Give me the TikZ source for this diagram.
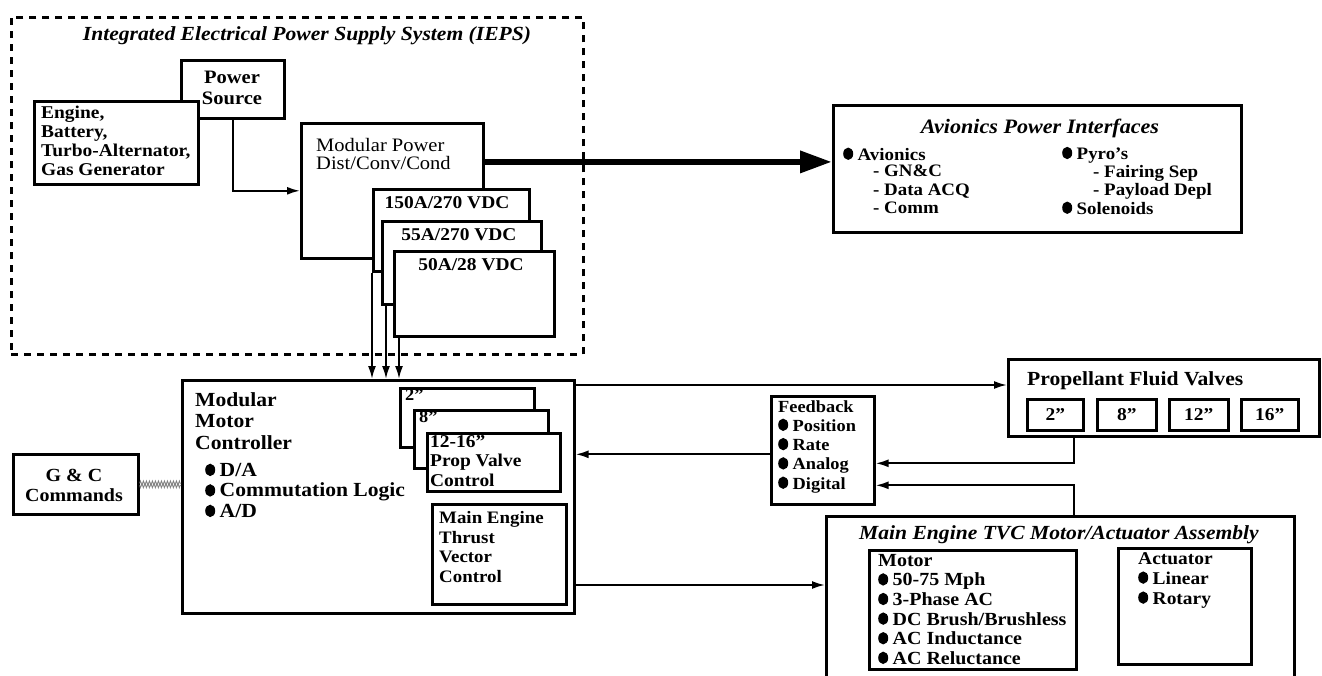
\documentclass[tikz,border=0pt]{standalone}
\usepackage{fontspec}
\setmainfont{Liberation Serif}[FakeStretch=1.08]
\usetikzlibrary{arrows.meta,decorations.pathmorphing,calc}
\newcommand\bul{\tikz[baseline=0pt,x=1pt,y=1pt]\fill (5,6.5) ellipse [x radius=5, y radius=6.2];\hspace{4.5pt}}
\newcommand\fs[2]{\fontsize{#1}{#2}\selectfont}
\tikzset{
  box/.style={draw, line width=2.6pt, fill=white, inner sep=0pt, anchor=north west},
  dashbox/.style={draw, line width=2.6pt, dash pattern=on 7pt off 6pt, inner sep=0pt, anchor=north west},
  arr/.style={line width=2pt, -{Latex[length=13pt,width=8pt]}},
  bigarr/.style={line width=6.5pt, -{Triangle[length=32pt,width=21pt]}},
  txt/.style={inner sep=0pt, align=left, anchor=north west, font=\bfseries\fs{17}{19}},
  ctxt/.style={inner sep=0pt, align=center, font=\bfseries\fs{17}{19}},
  ttl/.style={inner sep=0pt, font=\bfseries\itshape\fs{20}{22}},
  zz/.style={draw=black!50, line width=0.7pt, decorate, decoration={zigzag, segment length=3pt, amplitude=2.5pt}},
}
\newcommand\bx[6][]{\node[box,#1,minimum width={#5-#3},minimum height={#6-#4}] (#2) at (#3,#4) {};}
\begin{document}
\begin{tikzpicture}[x=1pt,y=-1pt]
\useasboundingbox (0,0) rectangle (1322,675);
% IEPS dashed region
\node[dashbox,minimum width=572,minimum height=337] (iepsbox) at (10,16) {};
\node[ttl] (iepst) at (307,36) {Integrated Electrical Power Supply System (IEPS)};
% power source and engine
\bx{ps}{180}{59}{283}{117}
\node[ctxt,font=\bfseries\fs{19}{21}] (pst) at (232,88) {Power\\Source};
\bx{eng}{33}{100}{197}{183}
\node[txt,font=\bfseries\fs{18}{19}] (engt) at (41,106) {Engine,\\Battery,\\Turbo-Alternator,\\Gas Generator};
% modular power
\bx{mpd}{300}{122}{482}{257}
\node[txt,font=\fs{19}{18.5}] (mpdt) at (316,138) {Modular Power\\Dist/Conv/Cond};
\bx{b150}{372}{188}{528}{270}
\node[ctxt,font=\bfseries\fs{18}{18}] (b150t) at (447,203) {150A/270 VDC};
\bx{b55}{381}{220}{540}{303}
\node[ctxt,font=\bfseries\fs{18}{18}] (b55t) at (459,235) {55A/270 VDC};
\bx{b50}{393}{250}{553}{335}
\node[ctxt,font=\bfseries\fs{18}{18}] (b50t) at (471,265) {50A/28 VDC};
\draw[arr] (ps.south) |- (mpd.west);
% avionics
\bx{av}{832}{104}{1240}{231}
\node[ttl,font=\bfseries\itshape\fs{20.5}{22}] (avt) at (1040,128) {Avionics Power Interfaces};
\node[txt,anchor=west,font=\bfseries\fs{17.5}{19}] (av1) at (843,154) {\bul Avionics};
\node[txt,font=\bfseries\fs{17.5}{18.5}] (av2) at (873,165) {- GN\&C\\- Data ACQ\\- Comm};
\node[txt,anchor=west,font=\bfseries\fs{17.5}{19}] (av3) at (1062,155) {\bul Pyro's};
\node[txt,font=\bfseries\fs{17.5}{18.5}] (av4) at (1093,165) {- Fairing Sep\\- Payload Depl};
\node[txt,anchor=west,font=\bfseries\fs{17.5}{19}] (av5) at (1062,208) {\bul Solenoids};
\coordinate (ta) at ($(mpd.north east)!0.29!(mpd.south east)$);
\draw[bigarr] (ta) -- (ta -| av.west);
% modular motor controller
\bx{mmc}{181}{379}{573}{612}
\node[txt,font=\bfseries\fs{20}{21.5}] (mmct) at (195,392) {Modular\\Motor\\Controller};
\node[txt,font=\bfseries\fs{20}{20.5}] (mmcb) at (205,463) {\bul D/A\\\bul Commutation Logic\\\bul A/D};
\bx{v2}{399}{387}{533}{446}
\node[txt,font=\bfseries\fs{17}{18}] (v2t) at (405,389) {2”};
\bx{v8}{413}{409}{547}{467}
\node[txt,font=\bfseries\fs{17}{18}] (v8t) at (419,411) {8”};
\bx{v12}{426}{432}{559}{490}
\node[txt,font=\bfseries\fs{18}{19.5}] (v12t) at (430,435) {12-16”\\Prop Valve\\Control};
\bx{met}{431}{503}{565}{603}
\node[txt,font=\bfseries\fs{17.5}{19.7}] (mett) at (439,511) {Main Engine\\Thrust\\Vector\\Control};
% arrows into MMC from power boxes
\draw[arr] (b150.south west) -- (b150.south west |- mmc.north);
\draw[arr] ([xshift=5pt]b55.south west) -- ([xshift=5pt]b55.south west |- mmc.north);
\draw[arr] ([xshift=6pt]b50.south west) -- ([xshift=6pt]b50.south west |- mmc.north);
% G&C
\bx{gc}{12}{453}{137}{513}
\node[ctxt,font=\bfseries\fs{18.5}{20}] (gct) at (74,485) {G \& C\\Commands};
\draw[zz] ([yshift=1pt]gc.east) -- ([yshift=1pt]gc.east -| mmc.west);
\draw[zz,decoration={zigzag, segment length=3pt, amplitude=-2.5pt}] ([yshift=-1pt]gc.east) -- ([yshift=-1pt]gc.east -| mmc.west);
% propellant fluid valves
\bx{pv}{1007}{358}{1318}{435}
\node[txt,anchor=west,font=\bfseries\fs{20}{20}] (pvt) at (1027,381) {Propellant Fluid Valves};
\bx{pa}{1026}{398}{1082}{429}
\node[ctxt,font=\bfseries\fs{18}{19}] (pat) at (pa.center) {2”};
\bx{pb}{1096}{398}{1155}{429}
\node[ctxt,font=\bfseries\fs{18}{19}] (pbt) at (pb.center) {8”};
\bx{pc}{1168}{398}{1227}{429}
\node[ctxt,font=\bfseries\fs{18}{19}] (pct) at (pc.center) {12”};
\bx{pd}{1240}{398}{1297}{429}
\node[ctxt,font=\bfseries\fs{18}{19}] (pdt) at (pd.center) {16”};
% feedback
\bx{fb}{770}{395}{873}{503}
\node[txt,font=\bfseries\fs{17}{19.3}] (fbt) at (778,400) {Feedback\\\bul Position\\\bul Rate\\\bul Analog\\\bul Digital};
% TVC assembly
\bx{tvc}{825}{515}{1293}{700}
\node[ttl] (tvct) at (1059,535) {Main Engine TVC Motor/Actuator Assembly};
\bx{mot}{868}{549}{1075}{668}
\node[txt,font=\bfseries\fs{18.5}{19.6}] (mott) at (878,554) {Motor\\\bul 50-75 Mph\\\bul 3-Phase AC\\\bul DC Brush/Brushless\\\bul AC Inductance\\\bul AC Reluctance};
\bx{act}{1117}{547}{1250}{663}
\node[txt,font=\bfseries\fs{18}{20}] (actt) at (1138,552) {Actuator\\\bul Linear\\\bul Rotary};
% connectors
\draw[arr] ([yshift=-6pt]mmc.north east) -- ([yshift=-6pt]mmc.north east -| pv.west);
\draw[arr] ([yshift=-4pt]fb.west) -- ([yshift=-4pt]fb.west -| mmc.east);
\coordinate (p1) at ([xshift=67pt]pv.south west);
\draw[arr] (p1) |- ([yshift=-13pt]fb.east);
\draw[arr] (p1 |- tvc.north) |- ([yshift=-35pt]fb.east);
\draw[arr] ([yshift=-206pt]mmc.north east) -- ([yshift=-206pt]mmc.north east -| tvc.west);
\end{tikzpicture}
\end{document}
